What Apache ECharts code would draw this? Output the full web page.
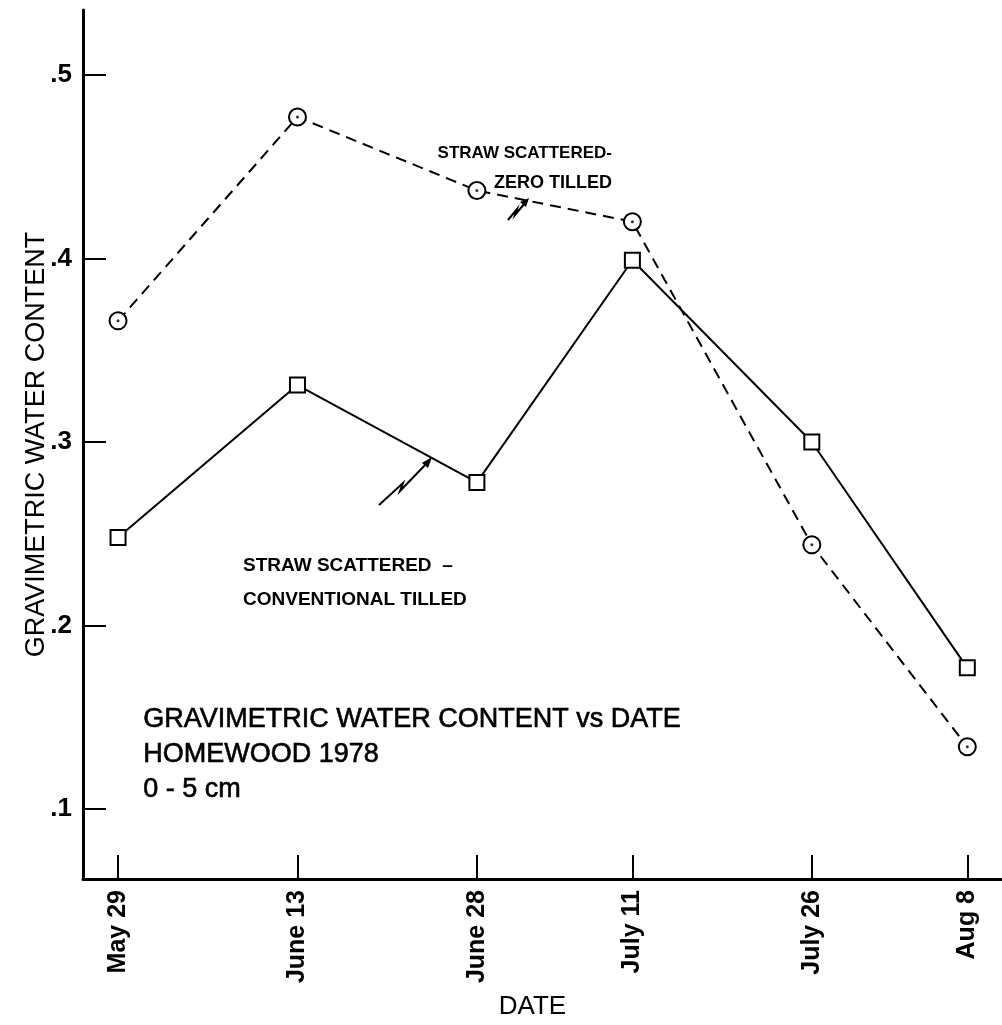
<!DOCTYPE html>
<html>
<head>
<meta charset="utf-8">
<script src="https://cdn.jsdelivr.net/npm/echarts@6/dist/echarts.min.js"></script>
<style>
html,body{margin:0;padding:0;background:#fff;}
#chart{width:1002px;height:1025px;}
</style>
</head>
<body>
<div id="chart"></div>
<script>
// ---- data ----
const dateLabels = ['May 29', 'June 13', 'June 28', 'July 11', 'July 26', 'Aug 8'];
const dayOfYear = [149, 164, 179, 192, 207, 220];
const zeroTilled = [0.366, 0.477, 0.437, 0.420, 0.244, 0.134];
const conventional = [0.248, 0.331, 0.278, 0.399, 0.300, 0.177];
const yTickValues = [0.1, 0.2, 0.3, 0.4, 0.5];
const yTickLabels = ['.1', '.2', '.3', '.4', '.5'];

const FONT = '"Liberation Sans", Arial, sans-serif';
const chart = echarts.init(document.getElementById('chart'), null, {renderer: 'canvas'});

const zeroPts = dayOfYear.map((d, i) => [d, zeroTilled[i]]);
const convPts = dayOfYear.map((d, i) => [d, conventional[i]]);

const option = {
  animation: false,
  backgroundColor: '#fff',
  textStyle: {fontFamily: FONT, color: '#000'},
  grid: {left: 83, right: 0, top: 10, bottom: 144, containLabel: false},
  xAxis: {
    type: 'value',
    min: 146.07, max: 222.9,
    axisLine: {lineStyle: {color: '#000', width: 3}},
    axisTick: {show: true, inside: true, length: 24, customValues: dayOfYear, lineStyle: {color: '#000', width: 2}},
    axisLabel: {
      customValues: dayOfYear,
      formatter: v => dateLabels[dayOfYear.indexOf(v)] || '',
      rotate: 90, margin: 11, fontSize: 25, fontWeight: 'bold', color: '#000', fontFamily: FONT
    },
    splitLine: {show: false},
    name: 'DATE', nameLocation: 'middle', nameGap: 115, nameMoveOverlap: false,
    nameTextStyle: {fontSize: 26, color: '#000', fontFamily: FONT, padding: [0, 20, 0, 0]}
  },
  yAxis: {
    type: 'value',
    min: 0.062, max: 0.5353,
    axisLine: {show: true, lineStyle: {color: '#000', width: 3}},
    axisTick: {show: true, inside: true, length: 23, customValues: yTickValues, lineStyle: {color: '#000', width: 2}},
    axisLabel: {
      customValues: yTickValues,
      formatter: v => yTickLabels[yTickValues.findIndex(t => Math.abs(t - v) < 1e-6)] || '',
      margin: 11, fontSize: 26, fontWeight: 'bold', color: '#000', fontFamily: FONT
    },
    splitLine: {show: false},
    name: 'GRAVIMETRIC WATER CONTENT', nameLocation: 'middle', nameGap: 33, nameRotate: 90, nameMoveOverlap: false,
    nameTextStyle: {fontSize: 27, color: '#000', fontFamily: FONT}
  },
  series: [
    {
      name: 'Straw scattered - zero tilled',
      type: 'line',
      data: zeroPts,
      lineStyle: {color: '#000', width: 2, type: [11, 7]},
      symbol: 'circle', symbolSize: 17,
      itemStyle: {color: '#fff', borderColor: '#000', borderWidth: 2},
      z: 3
    },
    {
      name: 'zero tilled centre dots',
      type: 'scatter',
      data: zeroPts,
      symbol: 'circle', symbolSize: 3,
      itemStyle: {color: '#000'},
      silent: true,
      z: 5
    },
    {
      name: 'Straw scattered - conventional tilled',
      type: 'line',
      data: convPts,
      lineStyle: {color: '#000', width: 2},
      symbol: 'rect', symbolSize: 15,
      itemStyle: {color: '#fff', borderColor: '#000', borderWidth: 2},
      z: 4
    }
  ],
  graphic: [
    {type: 'text', left: 143, top: 706, style: {text: 'GRAVIMETRIC WATER CONTENT vs DATE', font: '27px ' + FONT, fill: '#000', stroke: '#000', lineWidth: 0.6}},
    {type: 'text', left: 143, top: 741, style: {text: 'HOMEWOOD 1978', font: '27px ' + FONT, fill: '#000', stroke: '#000', lineWidth: 0.6}},
    {type: 'text', left: 143, top: 776, style: {text: '0 - 5 cm', font: '27px ' + FONT, fill: '#000', stroke: '#000', lineWidth: 0.6}},

    {type: 'text', x: 612, y: 153, style: {text: 'STRAW SCATTERED-', font: 'bold 17px ' + FONT, fill: '#000', align: 'right', verticalAlign: 'middle'}},
    {type: 'text', x: 612, y: 183, style: {text: 'ZERO TILLED', font: 'bold 18px ' + FONT, fill: '#000', align: 'right', verticalAlign: 'middle'}},

    {type: 'text', x: 243, y: 566, style: {text: 'STRAW SCATTERED  \u2013', font: 'bold 19px ' + FONT, fill: '#000', align: 'left', verticalAlign: 'middle'}},
    {type: 'text', x: 243, y: 600, style: {text: 'CONVENTIONAL TILLED', font: 'bold 19px ' + FONT, fill: '#000', align: 'left', verticalAlign: 'middle'}},

    // zig-zag pointer to conventional line
    {type: 'polyline', shape: {points: [[379, 505], [403, 483], [400, 491], [427, 463]]}, style: {stroke: '#000', lineWidth: 2, fill: null}},
    {type: 'polygon', shape: {points: [[432, 457], [422, 463], [428, 468]]}, style: {fill: '#000'}},

    // zig-zag pointer to zero tilled line
    {type: 'polyline', shape: {points: [[508, 220], [517, 209], [515, 215], [525, 203]]}, style: {stroke: '#000', lineWidth: 2, fill: null}},
    {type: 'polygon', shape: {points: [[529, 198], [520, 202], [526, 207]]}, style: {fill: '#000'}}
  ]
};
chart.setOption(option);
</script>
</body>
</html>
